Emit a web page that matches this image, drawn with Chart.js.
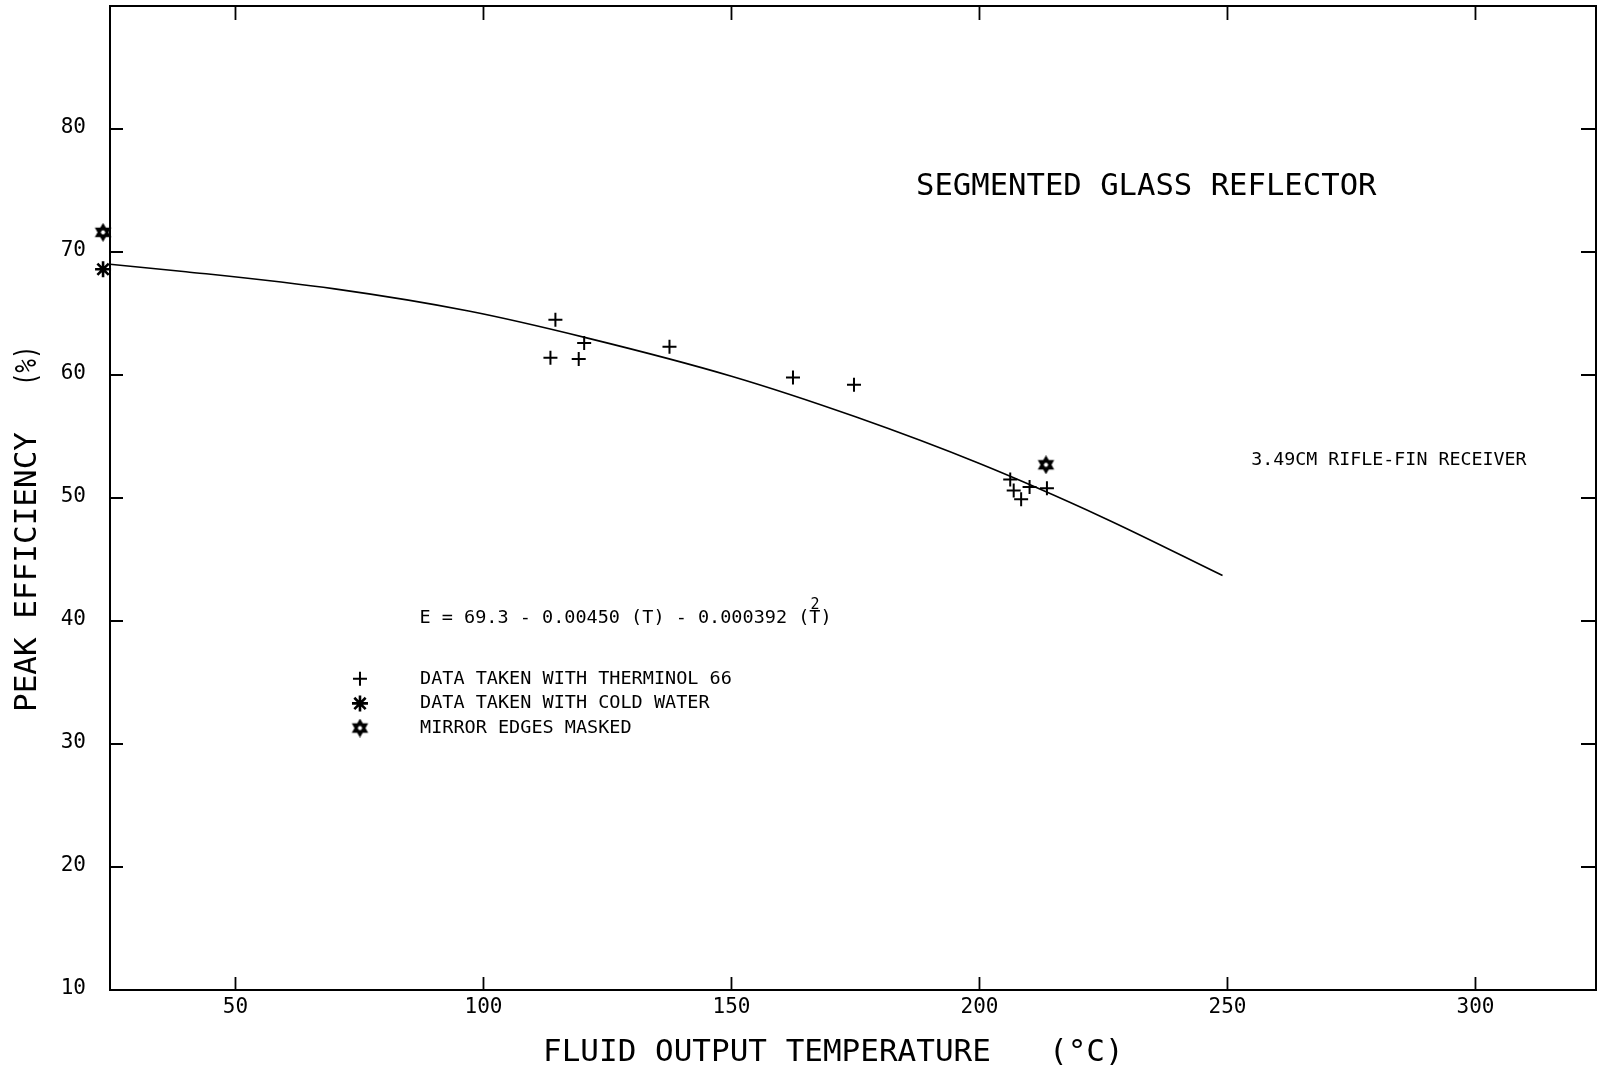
<!DOCTYPE html>
<html>
<head>
<meta charset="utf-8">
<title>Segmented Glass Reflector - Peak Efficiency</title>
<script src="https://cdn.jsdelivr.net/npm/chart.js@4.4.0/dist/chart.umd.min.js"></script>
<style>
    html, body { margin: 0; padding: 0; background: #fff; }
    #wrap { width: 1598px; height: 1071px; }
</style>
</head>
<body>
<div id="wrap"><canvas id="effChart" width="1598" height="1071"></canvas></div>

<script>
    // values
    var xTicks = [50, 100, 150, 200, 250, 300];
    var yTicks = [10, 20, 30, 40, 50, 60, 70, 80];

    var thermTemp = [113.5, 114.5, 119.2, 120.3, 137.5, 162.4, 174.7, 206.2, 206.9, 208.4, 210.1, 213.6];
    var thermEff  = [61.4, 64.5, 61.3, 62.6, 62.3, 59.8, 59.2, 51.5, 50.6, 49.9, 50.9, 50.8];

    var waterTemp = [23.3];
    var waterEff  = [68.6];

    var maskedTemp = [23.3, 213.4];
    var maskedEff  = [71.6, 52.7];

    // fitted curve
    var fitTemp = [24.7, 40, 70, 97, 121, 150, 175, 200, 225, 249];
    var fitEff  = [69.0, 68.4, 67.0, 65.2, 63.0, 59.9, 56.6, 52.8, 48.4, 43.7];

    var legendLabels = ['DATA TAKEN WITH THERMINOL 66', 'DATA TAKEN WITH COLD WATER', 'MIRROR EDGES MASKED'];

    var FONT = "'DejaVu Sans Mono', 'Liberation Mono', monospace";

    function pairs(xs, ys) {
        return xs.map(function (x, i) { return {x: x, y: ys[i]}; });
    }

    // star of david marker as a small canvas
    function hexagram(size, lw) {
        var c = document.createElement('canvas');
        c.width = size;
        c.height = size;
        var g = c.getContext('2d');
        var r = size / 2 - lw;
        var cx = size / 2, cy = size / 2;
        g.strokeStyle = '#000';
        g.lineWidth = lw;
        [-Math.PI / 2, Math.PI / 2].forEach(function (a0) {
            g.beginPath();
            for (var i = 0; i < 3; i++) {
                var a = a0 + i * 2 * Math.PI / 3;
                var px = cx + r * Math.cos(a), py = cy + r * Math.sin(a);
                if (i === 0) g.moveTo(px, py); else g.lineTo(px, py);
            }
            g.closePath();
            g.stroke();
        });
        return c;
    }

    var hexImg = hexagram(19, 2.8);

    var markerStyles = [
        {pointStyle: 'cross', radius: 7, borderWidth: 2},
        {pointStyle: 'star', radius: 8, borderWidth: 2.6},
        {pointStyle: hexImg, radius: 9, borderWidth: 1}
    ];

    var framePlugin = {
        id: 'frame',
        afterDatasetsDraw: function (chart) {
            var ctx = chart.ctx;
            var a = chart.chartArea;
            var xs = chart.scales.x, ys = chart.scales.y;

            ctx.save();
            ctx.strokeStyle = '#000';
            ctx.fillStyle = '#000';

            // box
            ctx.lineWidth = 2;
            ctx.strokeRect(a.left, a.top, a.right - a.left, a.bottom - a.top);

            // inward tick marks on all four sides
            ctx.lineWidth = 1.8;
            ctx.beginPath();
            xTicks.forEach(function (v) {
                var px = xs.getPixelForValue(v);
                ctx.moveTo(px, a.bottom); ctx.lineTo(px, a.bottom - 13);
                ctx.moveTo(px, a.top); ctx.lineTo(px, a.top + 14);
            });
            yTicks.forEach(function (v) {
                var py = ys.getPixelForValue(v);
                ctx.moveTo(a.left, py); ctx.lineTo(a.left + 13, py);
                ctx.moveTo(a.right, py); ctx.lineTo(a.right - 15, py);
            });
            ctx.stroke();

            // annotations
            ctx.textBaseline = 'middle';
            ctx.textAlign = 'left';

            ctx.font = '30.6px ' + FONT;
            ctx.fillText('SEGMENTED GLASS REFLECTOR', xs.getPixelForValue(187.2), ys.getPixelForValue(75.27));

            ctx.font = '18.3px ' + FONT;
            ctx.fillText('3.49CM RIFLE-FIN RECEIVER', xs.getPixelForValue(254.8), ys.getPixelForValue(53.05));

            ctx.font = '18.5px ' + FONT;
            var eq = 'E = 69.3 - 0.00450 (T) - 0.000392 (T)';
            var ex = xs.getPixelForValue(87.1), ey = ys.getPixelForValue(40.25);
            ctx.fillText(eq, ex, ey);
            var tPos = ctx.measureText(eq.slice(0, eq.length - 2)).width;
            var tW = ctx.measureText('T').width;
            ctx.font = '15px ' + FONT;
            ctx.textAlign = 'center';
            ctx.fillText('2', ex + tPos + tW / 2, ey - 13);

            // legend
            var legY = [35.3, 33.3, 31.3];
            var mx = xs.getPixelForValue(75.1), tx = xs.getPixelForValue(87.2);
            ctx.font = '18.5px ' + FONT;
            ctx.textAlign = 'left';
            legendLabels.forEach(function (lab, i) {
                var py = ys.getPixelForValue(legY[i]);
                var st = markerStyles[i];
                ctx.lineWidth = st.borderWidth;
                Chart.helpers.drawPoint(ctx, {pointStyle: st.pointStyle, radius: st.radius, rotation: 0, borderWidth: st.borderWidth}, mx, py);
                ctx.fillText(lab, tx, py);
            });

            // axis titles
            ctx.font = '31px ' + FONT;
            ctx.textAlign = 'left';
            ctx.fillText('FLUID OUTPUT TEMPERATURE', 543, 1053);
            ctx.fillText('(\u00B0C)', 1049, 1053);

            ctx.translate(28, 0);
            ctx.rotate(-Math.PI / 2);
            ctx.fillText('PEAK EFFICIENCY', -712, 0);
            ctx.scale(0.72, 1);
            ctx.fillText('(%)', -386 / 0.72, 0);

            ctx.restore();
        }
    };

    function buildChart() {
        var ctx = document.getElementById('effChart').getContext('2d');

        return new Chart(ctx, {
            type: 'scatter',
            data: {
                datasets: [{
                    label: 'fit',
                    data: pairs(fitTemp, fitEff),
                    showLine: true,
                    borderColor: '#000',
                    borderWidth: 1.6,
                    pointRadius: 0,
                    tension: 0.4,
                    cubicInterpolationMode: 'monotone',
                    clip: false
                }, {
                    label: legendLabels[0],
                    data: pairs(thermTemp, thermEff),
                    pointStyle: 'cross',
                    pointRadius: 7,
                    borderWidth: 2,
                    borderColor: '#000',
                    backgroundColor: '#000'
                }, {
                    label: legendLabels[1],
                    data: pairs(waterTemp, waterEff),
                    pointStyle: 'star',
                    pointRadius: 8,
                    borderWidth: 2.6,
                    borderColor: '#000',
                    backgroundColor: '#000',
                    clip: false
                }, {
                    label: legendLabels[2],
                    data: pairs(maskedTemp, maskedEff),
                    pointStyle: hexImg,
                    pointRadius: 9,
                    borderColor: '#000',
                    clip: false
                }]
            },
            options: {
                responsive: false,
                animation: false,
                devicePixelRatio: 1,
                layout: {autoPadding: false, padding: {top: 6, right: 2, left: 0, bottom: 0}},
                plugins: {
                    legend: {display: false},
                    tooltip: {enabled: false}
                },
                scales: {
                    x: {
                        type: 'linear',
                        min: 24.7,
                        max: 324.3,
                        afterBuildTicks: function (s) {
                            s.ticks = xTicks.map(function (v) { return {value: v}; });
                        },
                        afterFit: function (s) {
                            s.height = 81;
                            s.paddingLeft = 0;
                            s.paddingRight = 0;
                        },
                        grid: {display: false, drawTicks: false},
                        border: {display: false},
                        ticks: {
                            padding: 5,
                            color: '#000',
                            maxRotation: 0,
                            autoSkip: false,
                            font: {family: FONT, size: 21}
                        }
                    },
                    y: {
                        type: 'linear',
                        min: 10,
                        max: 90,
                        afterBuildTicks: function (s) {
                            s.ticks = yTicks.map(function (v) { return {value: v}; });
                        },
                        afterFit: function (s) {
                            s.width = 110;
                            s.paddingTop = 0;
                            s.paddingBottom = 0;
                        },
                        grid: {display: false, drawTicks: false},
                        border: {display: false},
                        ticks: {
                            padding: 24,
                            labelOffset: -1,
                            color: '#000',
                            autoSkip: false,
                            font: {family: FONT, size: 21}
                        }
                    }
                }
            },
            plugins: [framePlugin]
        });
    }

    var effChart = buildChart();
</script>
</body>
</html>
